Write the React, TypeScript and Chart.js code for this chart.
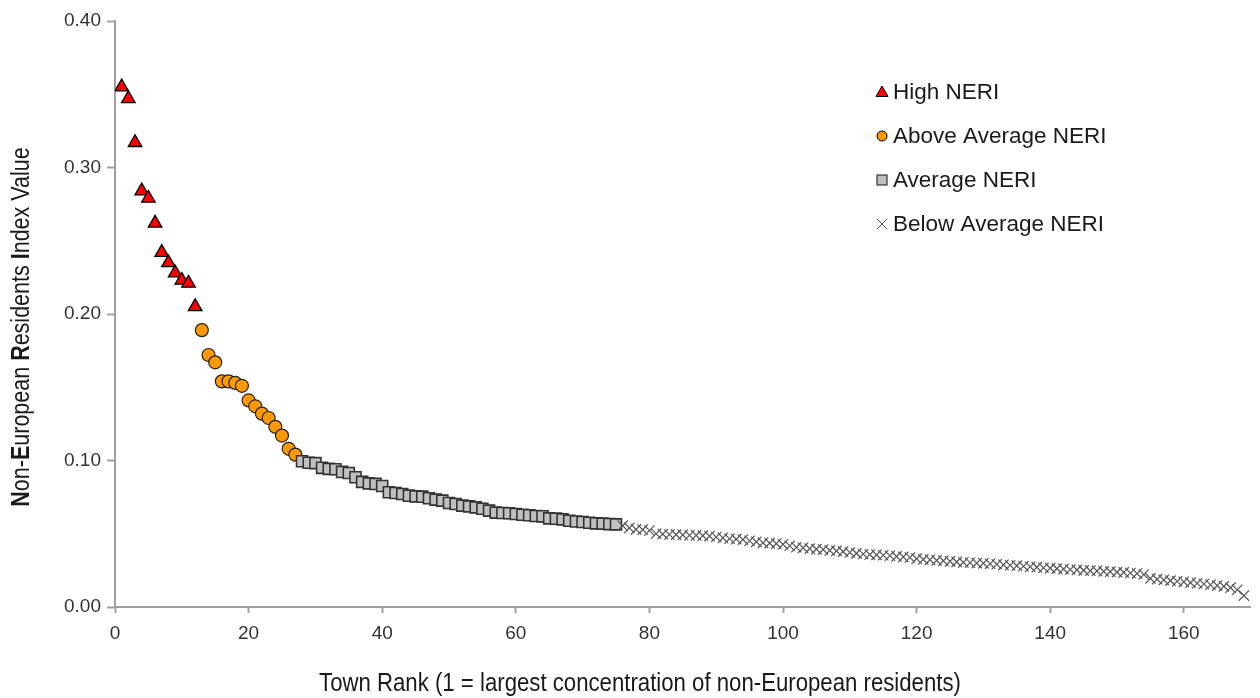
import React, { useEffect, useRef } from "react";
import { Chart, registerables } from "chart.js";

Chart.register(...registerables);

// Town ranks start for each NERI class (rank 1 = largest concentration)
const highStart = 1;
const aboveStart = 13;
const avgStart = 28;
const belowStart = 76;

const highNeri = [0.355, 0.347, 0.317, 0.284, 0.279, 0.262, 0.242, 0.235, 0.228, 0.223, 0.221, 0.205];

const aboveAvgNeri = [0.189, 0.172, 0.167, 0.154, 0.154, 0.153, 0.151, 0.141, 0.137, 0.132, 0.129, 0.123, 0.117, 0.108, 0.104];

const avgNeri = [
  0.0995, 0.0985, 0.0982, 0.0950, 0.0943, 0.0940, 0.0922, 0.0915, 0.0886, 0.0854,
  0.0844, 0.0840, 0.0826, 0.0783, 0.0778, 0.0771, 0.0760, 0.0755, 0.0753, 0.0742,
  0.0733, 0.0726, 0.0710, 0.0703, 0.0692, 0.0687, 0.0680, 0.0671, 0.0658, 0.0644,
  0.0642, 0.0640, 0.0635, 0.0630, 0.0626, 0.0621, 0.0619, 0.0605, 0.0603, 0.0598,
  0.0589, 0.0584, 0.0580, 0.0575, 0.0571, 0.0569, 0.0566, 0.0564,
];

const belowAvgNeri = [
  0.0555, 0.0540, 0.0530, 0.0528, 0.0522, 0.0500, 0.0498, 0.0495, 0.0494, 0.0492,
  0.0490, 0.0489, 0.0487, 0.0484, 0.0478, 0.0472, 0.0466, 0.0463, 0.0460, 0.0452,
  0.0445, 0.0438, 0.0436, 0.0433, 0.0428, 0.0418, 0.0408, 0.0404, 0.0398, 0.0395,
  0.0392, 0.0386, 0.0383, 0.0378, 0.0372, 0.0366, 0.0362, 0.0358, 0.0356, 0.0353,
  0.0350, 0.0345, 0.0342, 0.0338, 0.0330, 0.0325, 0.0322, 0.0318, 0.0315, 0.0312,
  0.0308, 0.0305, 0.0302, 0.0300, 0.0298, 0.0295, 0.0292, 0.0288, 0.0285, 0.0282,
  0.0278, 0.0275, 0.0272, 0.0268, 0.0265, 0.0262, 0.0259, 0.0256, 0.0253, 0.0250,
  0.0248, 0.0246, 0.0243, 0.0241, 0.0238, 0.0236, 0.0232, 0.0228, 0.0222, 0.0195,
  0.0190, 0.0185, 0.0180, 0.0176, 0.0172, 0.0166, 0.0162, 0.0157, 0.0152, 0.0146,
  0.0141, 0.0132, 0.0118, 0.0078,
];

const legendLabels = ["High NERI", "Above Average NERI", "Average NERI", "Below Average NERI"];
const xTitle = "Town Rank (1 = largest concentration of non-European residents)";
const yTitleParts: [string, boolean][] = [
  ["N", true], ["on-", false], ["E", true], ["uropean ", false],
  ["R", true], ["esidents ", false], ["I", true], ["ndex Value", false],
];

const xMin = 0, xMax = 170, xStep = 20;
const yMin = 0, yMax = 0.4, yStep = 0.1;

const toPoints = (vals: number[], start: number) => vals.map((v, i) => ({ x: start + i, y: v }));

const AXIS = "#A0A0A0";
const REG = "'Liberation Sans', Arial, sans-serif";
const NARROW_SCALE = 0.87;

const decorPlugin = {
  id: "decor",
  afterDraw(chart: any) {
    const ctx = chart.ctx as CanvasRenderingContext2D;
    // Legend
    const lx = 882, tx = 893;
    const ys = [92, 136, 180, 224];
    ctx.save();
    ys.forEach((y, i) => {
      ctx.lineWidth = 1;
      ctx.strokeStyle = "#000";
      if (i === 0) {
        ctx.beginPath();
        ctx.moveTo(lx, y - 6);
        ctx.lineTo(lx + 6, y + 4.5);
        ctx.lineTo(lx - 6, y + 4.5);
        ctx.closePath();
        ctx.fillStyle = "#FF0000";
        ctx.fill();
        ctx.stroke();
      } else if (i === 1) {
        ctx.beginPath();
        ctx.arc(lx, y, 5, 0, Math.PI * 2);
        ctx.fillStyle = "#FF9900";
        ctx.fill();
        ctx.stroke();
      } else if (i === 2) {
        ctx.fillStyle = "#C0C0C0";
        ctx.strokeStyle = "#333";
        ctx.lineWidth = 1.2;
        ctx.fillRect(lx - 5, y - 5, 10, 10);
        ctx.strokeRect(lx - 5, y - 5, 10, 10);
      } else {
        ctx.strokeStyle = "#555";
        ctx.beginPath();
        ctx.moveTo(lx - 5, y - 5);
        ctx.lineTo(lx + 5, y + 5);
        ctx.moveTo(lx + 5, y - 5);
        ctx.lineTo(lx - 5, y + 5);
        ctx.stroke();
      }
      ctx.fillStyle = "#1a1a1a";
      ctx.font = `22.5px ${REG}`;
      ctx.textAlign = "left";
      ctx.textBaseline = "middle";
      ctx.fillText(legendLabels[i], tx, y + 1);
    });

    // X title (condensed)
    ctx.save();
    ctx.font = `25.5px ${REG}`;
    ctx.fillStyle = "#1a1a1a";
    ctx.textAlign = "center";
    ctx.textBaseline = "middle";
    ctx.translate(640, 684);
    ctx.scale(NARROW_SCALE, 1);
    ctx.fillText(xTitle, 0, 0);
    ctx.restore();

    // Y title with bold initials (condensed)
    ctx.translate(22, 327);
    ctx.rotate(-Math.PI / 2);
    ctx.scale(0.86, 1);
    ctx.fillStyle = "#1a1a1a";
    ctx.textBaseline = "middle";
    const fontFor = (b: boolean) => `${b ? "bold " : ""}25px ${REG}`;
    let total = 0;
    yTitleParts.forEach(([t, b]) => {
      ctx.font = fontFor(b);
      total += ctx.measureText(t).width;
    });
    let x = -total / 2;
    ctx.textAlign = "left";
    yTitleParts.forEach(([t, b]) => {
      ctx.font = fontFor(b);
      ctx.fillText(t, x, 0);
      x += ctx.measureText(t).width;
    });
    ctx.restore();
  },
};

export default function App() {
  const ref = useRef<HTMLCanvasElement | null>(null);
  useEffect(() => {
    if (!ref.current) return;
    const chart = new Chart(ref.current, {
      type: "scatter",
      data: {
        datasets: [
          {
            label: legendLabels[0],
            data: toPoints(highNeri, highStart),
            pointStyle: "triangle",
            pointRadius: 7.8,
            backgroundColor: "#FF0000",
            borderColor: "#000",
            borderWidth: 1.3,
            order: 3,
          },
          {
            label: legendLabels[1],
            data: toPoints(aboveAvgNeri, aboveStart),
            pointStyle: "circle",
            pointRadius: 6.5,
            backgroundColor: "#FF9900",
            borderColor: "#222",
            borderWidth: 1.2,
            order: 2,
          },
          {
            label: legendLabels[2],
            data: toPoints(avgNeri, avgStart),
            pointStyle: "rect",
            pointRadius: 7.8,
            backgroundColor: "#C0C0C0",
            borderColor: "#333",
            borderWidth: 1.6,
            order: 1,
          },
          {
            label: legendLabels[3],
            data: toPoints(belowAvgNeri, belowStart),
            pointStyle: "crossRot",
            pointRadius: 7.3,
            backgroundColor: "#555",
            borderColor: "#555",
            borderWidth: 1.2,
            order: 0,
          },
        ],
      },
      options: {
        animation: false,
        responsive: false,
        maintainAspectRatio: false,
        layout: { padding: { left: 0, right: 4, top: 21, bottom: 0 } },
        plugins: { legend: { display: false }, tooltip: { enabled: false } },
        scales: {
          x: {
            type: "linear",
            min: xMin,
            max: xMax,
            afterFit: (s: any) => { s.height = 91; },
            ticks: {
              stepSize: xStep,
              includeBounds: false,
              padding: 9,
              color: "#333",
              font: { family: REG, size: 19 },
              maxRotation: 0,
            },
            grid: { drawOnChartArea: false, drawTicks: true, tickLength: 6, tickColor: AXIS, tickWidth: 2 },
            border: { display: true, color: AXIS, width: 2 },
          },
          y: {
            type: "linear",
            min: yMin,
            max: yMax,
            afterFit: (s: any) => { s.width = 115; },
            ticks: {
              stepSize: yStep,
              padding: 6,
              color: "#333",
              font: { family: REG, size: 19 },
              callback: (v: any) => Number(v).toFixed(2),
            },
            grid: { drawOnChartArea: false, drawTicks: true, tickLength: 8, tickColor: AXIS, tickWidth: 2 },
            border: { display: true, color: AXIS, width: 2 },
          },
        },
      },
      plugins: [decorPlugin],
    });
    return () => chart.destroy();
  }, []);
  return (
    <div style={{ position: "fixed", left: 0, top: 0, width: 1260, height: 698, background: "#fff" }}>
      <canvas ref={ref} width={1260} height={698} />
    </div>
  );
}
